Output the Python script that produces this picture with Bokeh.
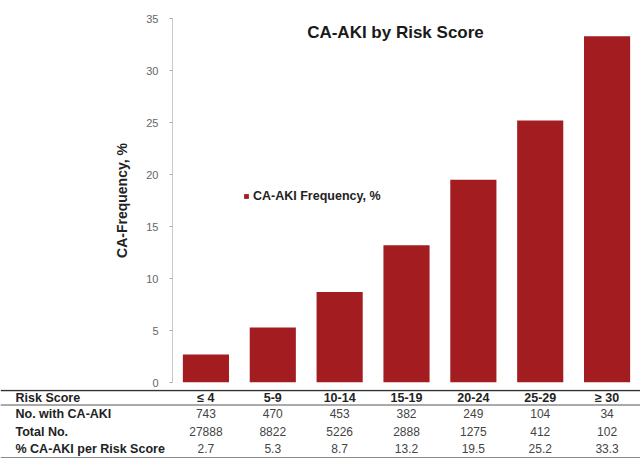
from bokeh.plotting import figure
from bokeh.models import FactorRange, Range1d, FixedTicker, Label, Span
from bokeh.embed import file_html
from bokeh.resources import INLINE
from bokeh.core.properties import value

# ---- data ----
risk_scores = ["≤ 4", "5-9", "10-14", "15-19", "20-24", "25-29", "≥ 30"]
freq_pct = [2.7, 5.3, 8.7, 13.2, 19.5, 25.2, 33.3]
n_with_aki = [743, 470, 453, 382, 249, 104, 34]
total_no = [27888, 8822, 5226, 2888, 1275, 412, 102]
pct_per_score = ["2.7", "5.3", "8.7", "13.2", "19.5", "25.2", "33.3"]
row_labels = ["Risk Score", "No. with CA-AKI", "Total No.", "% CA-AKI per Risk Score"]
y_ticks = [0, 5, 10, 15, 20, 25, 30, 35]

FONT = "Liberation Sans"
BAR = "#a31c20"
FRAME_L = 172
FRAME_W = 468
N = len(risk_scores)
band = FRAME_W / N

# ---- chart ----
p = figure(x_range=FactorRange(*risk_scores), y_range=Range1d(0, 35),
           frame_width=FRAME_W, frame_height=364,
           min_border_left=FRAME_L, min_border_right=0,
           min_border_top=18, min_border_bottom=7,
           output_backend="svg", toolbar_location=None)
p.vbar(x=risk_scores, top=freq_pct, width=0.69, fill_color=BAR, line_color=None,
       legend_label="CA-AKI Frequency, %")
p.xaxis.visible = False
p.xgrid.visible = False
p.ygrid.visible = False
p.outline_line_color = None

ya = p.yaxis[0]
ya.ticker = FixedTicker(ticks=y_ticks)
ya.axis_line_color = "#c8c8c8"
ya.major_tick_line_color = "#aaaaaa"
ya.major_tick_out = 3
ya.major_tick_in = 0
ya.minor_tick_line_color = None
ya.major_label_text_font = FONT
ya.major_label_text_font_size = "11px"
ya.major_label_text_color = "#666666"
ya.major_label_standoff = 11
ya.axis_label = "CA-Frequency, %"
ya.axis_label_text_font = FONT
ya.axis_label_text_font_size = "14px"
ya.axis_label_text_font_style = "bold"
ya.axis_label_text_color = "#222222"
ya.axis_label_standoff = 13

title = Label(x=3.335, y=33.65, text="CA-AKI by Risk Score", text_align="center",
              text_baseline="middle", text_font=FONT, text_font_size="17px",
              text_font_style="bold", text_color="#1a1a1a")
p.add_layout(title)

lg = p.legend[0]
lg.location = (71, 179)
lg.padding = 0
lg.margin = 0
lg.spacing = 0
lg.glyph_width = 6
lg.glyph_height = 6
lg.label_standoff = 4
lg.label_height = 14
lg.label_text_font = FONT
lg.label_text_font_size = "12.5px"
lg.label_text_font_style = "bold"
lg.label_text_color = "#222222"
lg.background_fill_alpha = 0
lg.border_line_color = None

# ---- table (separate root, full-width frame) ----
TH = 70
t = figure(x_range=Range1d(-FRAME_L / band, N), y_range=Range1d(0, TH),
           width=FRAME_L + FRAME_W, height=TH,
           min_border_left=0, min_border_right=0, min_border_top=0, min_border_bottom=0,
           output_backend="svg", toolbar_location=None)
t.axis.visible = False
t.xgrid.visible = False
t.ygrid.visible = False
t.outline_line_color = None

row_y = [62, 46, 28, 11]
col_x = [i + 0.5 for i in range(N)]
label_x = (-FRAME_L + 15) / band

t.text(x=[label_x] * 4, y=row_y, text=row_labels, text_align="left", text_baseline="middle",
       text_font=value(FONT), text_font_size="12.5px", text_font_style="bold", text_color="#222222")
t.text(x=col_x, y=[row_y[0]] * N, text=risk_scores, text_align="center", text_baseline="middle",
       text_font=value(FONT), text_font_size="12.5px", text_font_style="bold", text_color="#222222")
rows = [[str(v) for v in n_with_aki], [str(v) for v in total_no], pct_per_score]
for yy, vals in zip(row_y[1:], rows):
    t.text(x=col_x, y=[yy] * N, text=vals, text_align="center", text_baseline="middle",
           text_font=value(FONT), text_font_size="12px", text_color="#444444")

t.add_layout(Span(location=69, dimension="width", line_color="#333333", line_width=1.5))
t.add_layout(Span(location=54.5, dimension="width", line_color="#555555", line_width=1))
t.add_layout(Span(location=2, dimension="width", line_color="#888888", line_width=1))

open("out.html", "w").write(file_html([p, t], INLINE))
